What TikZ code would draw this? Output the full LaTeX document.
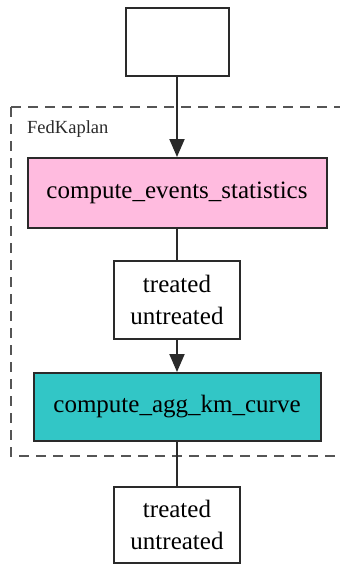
\documentclass[tikz,border=0pt]{standalone}
\usepackage{fontspec}
\setmainfont{Liberation Serif}
\usetikzlibrary{arrows.meta}
\definecolor{pinkfill}{HTML}{FFBBDF}
\definecolor{tealfill}{HTML}{32C6C6}
\definecolor{edge}{HTML}{2A2A2A}
\begin{document}
\begin{tikzpicture}[x=1pt,y=-1pt,
  box/.style={draw=edge,line width=2pt,inner sep=0pt,font=\fontsize{25}{32}\selectfont,align=center},
  conn/.style={draw=edge,line width=2pt},
  arr/.style={conn,-{Triangle[length=18pt,width=15pt]}}]
\useasboundingbox (0,0) rectangle (340,565);
\draw[draw=edge!80,line width=2pt,dash pattern=on 10pt off 7pt] (11,107) -- (11,456) -- (350,456);
\draw[draw=edge!80,line width=2pt,dash pattern=on 10pt off 7pt] (11,107) -- (350,107);
\node[anchor=north west,font=\fontsize{18.5}{20}\selectfont,text=edge,inner sep=0pt] (lbl) at (27,120) {FedKaplan};
\node[box,minimum width=103pt,minimum height=68pt] (top) at (177,42) {};
\node[box,fill=pinkfill,minimum width=299pt,minimum height=70pt] (ces) at (177,193) {compute\_events\_statistics};
\node[box,minimum width=126pt,minimum height=78pt] (t1) at (177,300) {treated\\untreated};
\node[box,fill=tealfill,minimum width=287pt,minimum height=68pt] (akm) at (177,407) {compute\_agg\_km\_curve};
\node[box,minimum width=126pt,minimum height=76pt] (t2) at (177,525) {treated\\untreated};
\draw[arr] (top.south) -- (ces.north);
\draw[conn] (ces.south) -- (t1.north);
\draw[arr] (t1.south) -- (akm.north);
\draw[conn] (akm.south) -- (t2.north);
\end{tikzpicture}
\end{document}
